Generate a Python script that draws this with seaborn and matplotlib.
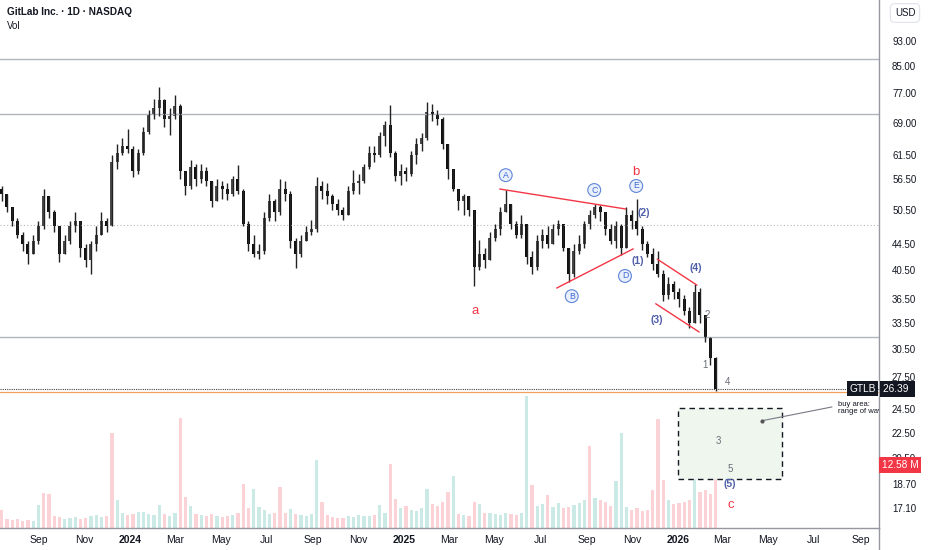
import numpy as np
import pandas as pd
import matplotlib
matplotlib.use("Agg")
import matplotlib.pyplot as plt
import matplotlib.dates as mdates
import matplotlib.transforms as mtransforms
from matplotlib.patches import Rectangle
from matplotlib.ticker import FixedLocator, NullLocator
import seaborn as sns

# weekly candles (log price scale)
first_week = "2023-07-14"
first_open = 54.5
close = [53.5, 51, 48.5, 46, 44.5, 43, 45, 47.5, 53, 50,
         47.5, 43, 45, 47.5, 48.5, 44, 42, 44.5, 46, 48.5,
         47.5, 60, 62, 63.5, 63, 58, 62, 67, 71.5, 73,
         75, 70, 71, 73.5, 58, 55, 59, 56.5, 58, 56,
         52, 55, 54.5, 53.5, 56.5, 54, 48, 44.5, 43, 43.5,
         49, 52, 50, 54.5, 53.5, 45, 43, 45, 46.5, 47,
         55, 54, 53, 51.5, 50.5, 49.5, 54, 55.5, 56, 59,
         62, 61.5, 66, 68.5, 62, 57, 58, 57.5, 61.5, 64,
         65.5, 72, 71.5, 70, 64, 58.5, 54.5, 52, 53, 50.5,
         41, 43, 42, 45.5, 47, 50, 51.5, 48, 46, 48,
         42.5, 41, 45, 46, 44.5, 47, 48, 44, 40, 43.5,
         44.5, 48, 49.5, 51, 50, 47, 45, 47.5, 44, 49.5,
         48.5, 47, 44.5, 43, 41.5, 40, 37, 38.5, 37.5, 36.5,
         35, 33.5, 37.5, 34.5, 31.8, 29.5, 26.39]
high = [55, 53.5, 51, 49, 46.5, 45, 46, 48.5, 54.5, 53,
        50.5, 47.5, 46, 48.5, 50, 48.5, 44.5, 45, 47.5, 50,
        49, 61.5, 64, 65.5, 67.5, 63.5, 63, 68, 72.5, 75.5,
        78.6, 75.5, 73, 76.5, 74, 58, 60.5, 59.5, 59.5, 59,
        56, 56.5, 56, 55.5, 57, 59.3, 54.5, 48.5, 46, 44.5,
        50, 53.4, 52.5, 56.4, 56, 54, 45.5, 46, 47.5, 48.6,
        56.8, 56, 55.5, 53.5, 52.5, 51, 55, 58.2, 57.5, 59.5,
        63.6, 63.5, 67, 69.5, 73.8, 62.5, 59.5, 59, 62.5, 65.5,
        66.6, 74.5, 74, 72.5, 70.5, 64, 58.5, 54.5, 53.5, 53,
        50.5, 45.2, 44, 46.5, 48, 51, 54.2, 51.5, 48.5, 49.5,
        48, 43.5, 46, 47, 47.5, 48, 48.6, 48, 44, 44.5,
        46, 48.5, 50.5, 51.5, 51.4, 50, 48, 48.5, 48, 51,
        50.5, 52.5, 47.5, 45, 44, 43.5, 40.5, 39.5, 39, 38,
        37, 35.5, 38.6, 38, 34.5, 31.8, 29.6]
low = [52, 50, 47.5, 45.5, 43.5, 41.5, 43, 44.5, 47, 49,
       46.5, 41.7, 43, 44.5, 46.5, 42.5, 41, 40, 43.5, 46,
       46.5, 47.5, 58.5, 61.5, 62, 56.8, 57.5, 61.5, 66.5, 70,
       71, 68, 66.2, 70, 56.5, 53.2, 54.5, 55, 55.5, 55,
       51, 52, 52.5, 52.3, 53, 53.5, 47.5, 43.5, 42.5, 42.2,
       43, 48.5, 48.5, 49.5, 52, 44, 40.8, 42.5, 45, 46,
       46.5, 52.5, 51.5, 50.5, 49.5, 48.6, 49.5, 53.5, 53.5, 55.5,
       58.5, 60, 61, 63.5, 61, 56, 55.2, 56, 57, 59.5,
       62.5, 65, 69.5, 68.5, 63, 56.5, 54, 50.5, 49.5, 49.3,
       38.3, 40.6, 40.8, 42, 45, 46, 50, 47, 45.5, 45.5,
       41.5, 40, 40.5, 44, 44, 44.5, 46, 43.5, 38.8, 39.5,
       43, 44, 47, 49, 48.5, 46, 44.5, 44, 42.8, 44,
       47, 46, 43.6, 42.5, 40.6, 39.5, 36.2, 36.5, 36.5, 35.5,
       34.5, 32.9, 33.5, 33.5, 31.3, 28.8, 26.2]
volume_m = [3.6, 1.8, 1.6, 1.8, 1.5, 1.6, 1.4, 4.6, 7.0, 6.8,
            2.4, 2.2, 1.8, 2.0, 2.2, 1.8, 2.0, 2.4, 2.6, 2.2,
            2.4, 19.0, 5.6, 3.0, 2.6, 2.8, 3.2, 3.2, 2.8, 2.6,
            4.6, 2.8, 2.4, 3.0, 22.0, 6.2, 4.4, 2.8, 2.6, 2.4,
            2.8, 2.4, 2.2, 2.4, 2.6, 3.0, 8.8, 4.0, 7.8, 4.2,
            3.6, 2.8, 3.0, 8.2, 3.0, 3.8, 2.8, 2.6, 2.4, 2.8,
            13.6, 5.2, 2.6, 2.2, 2.0, 2.0, 2.4, 2.2, 2.6, 2.4,
            2.4, 2.6, 4.6, 3.0, 12.8, 5.8, 4.0, 4.4, 3.6, 3.4,
            4.0, 7.8, 4.8, 4.4, 5.2, 7.2, 10.4, 2.8, 2.6, 2.4,
            5.2, 4.8, 3.0, 3.0, 2.8, 2.6, 3.0, 2.8, 2.6, 3.0,
            26.4, 8.6, 4.4, 4.8, 6.6, 4.2, 5.0, 4.0, 4.2, 4.6,
            5.0, 5.6, 16.4, 6.0, 5.6, 5.2, 4.4, 9.4, 19.0, 4.2,
            3.6, 4.0, 3.4, 3.6, 7.6, 21.8, 9.6, 5.6, 4.8, 5.0,
            5.2, 5.6, 10.2, 7.2, 7.6, 6.8, 12.58]
vol_up = [0, 0, 0, 0, 0, 0, 1, 1, 0, 0,
          0, 0, 1, 1, 1, 0, 0, 1, 1, 1,
          0, 0, 1, 1, 0, 0, 1, 1, 1, 1,
          1, 0, 1, 1, 0, 0, 1, 0, 1, 0,
          0, 1, 0, 0, 1, 0, 0, 0, 1, 1,
          1, 1, 0, 0, 0, 1, 0, 1, 1, 1,
          1, 0, 0, 0, 0, 0, 1, 1, 1, 1,
          1, 0, 1, 1, 0, 0, 1, 0, 1, 1,
          1, 1, 0, 0, 0, 0, 1, 0, 1, 0,
          0, 1, 0, 1, 1, 1, 1, 0, 0, 1,
          1, 0, 1, 1, 0, 1, 1, 0, 0, 1,
          1, 1, 0, 1, 0, 0, 0, 1, 1, 1,
          0, 0, 0, 0, 0, 0, 0, 1, 0, 0,
          0, 0, 1, 0, 0, 0, 0]

gray_levels = [87.1, 71.4, 31.8]
dotted_level = 47.7
last_price = 26.39
orange_level = 26.08
last_volume = 12.58

price_ticks = [93.0, 85.0, 77.0, 69.0, 61.5, 56.5, 50.5, 44.5, 40.5, 36.5,
               33.5, 30.5, 27.5, 24.5, 22.5, 20.5, 18.7, 17.1]
month_ticks = ["2023-09-01", "2023-11-01", "2024-01-01", "2024-03-01", "2024-05-01",
               "2024-07-01", "2024-09-01", "2024-11-01", "2025-01-01", "2025-03-01",
               "2025-05-01", "2025-07-01", "2025-09-01", "2025-11-01", "2026-01-01",
               "2026-03-01", "2026-05-01", "2026-07-01", "2026-09-01"]
month_labels = ["Sep", "Nov", "2024", "Mar", "May", "Jul", "Sep", "Nov", "2025", "Mar",
                "May", "Jul", "Sep", "Nov", "2026", "Mar", "May", "Jul", "Sep"]

# red trend lines (triangle + channel)
trend_seg = ["tri_top", "tri_top", "tri_bot", "tri_bot", "ch_top", "ch_top", "ch_bot", "ch_bot"]
trend_date = ["2025-05-08", "2025-10-23", "2025-07-23", "2025-11-02",
              "2025-12-04", "2026-01-26", "2025-12-02", "2026-01-29"]
trend_price = [54.4, 50.6, 38.0, 43.8, 42.2, 38.4, 35.9, 32.4]

circled = [("A", "2025-05-16", 57.2), ("B", "2025-08-12", 36.9), ("C", "2025-09-11", 54.2),
           ("D", "2025-10-22", 39.7), ("E", "2025-11-06", 55.0)]
waves = [("(1)", "2025-11-08", 41.9), ("(2)", "2025-11-16", 49.9), ("(3)", "2025-12-04", 33.9),
         ("(4)", "2026-01-25", 40.8), ("(5)", "2026-03-11", 18.7)]
subwaves = [("1", "2026-02-06", 28.8), ("2", "2026-02-09", 34.5), ("3", "2026-02-24", 21.8),
            ("4", "2026-03-08", 27.0), ("5", "2026-03-11", 19.7)]
abc = [("a", "2025-04-05", 35.0), ("b", "2025-11-05", 57.8), ("c", "2026-03-12", 17.3)]

sns.set_theme(style="white")
plt.rcParams['font.family'] = ['Liberation Sans', 'DejaVu Sans']

dates = pd.date_range(first_week, periods=len(close), freq="7D")
dnum = mdates.date2num(dates)
c = np.array(close)
o = np.r_[first_open, c[:-1]]
up = c >= o


def dn(s):
    return mdates.date2num(pd.Timestamp(s))


fig = plt.figure(figsize=(9.32, 5.5), dpi=100)
rect = [0, 22 / 550, 879 / 932, 528 / 550]
axv = fig.add_axes(rect)
ax = fig.add_axes(rect, sharex=axv)
ax.patch.set_alpha(0)

# volume
axv.bar(dnum, volume_m, width=4.6,
        color=np.where(np.array(vol_up) == 1, "#cbeae6", "#fbd3d6"), linewidth=0)
axv.set_ylim(0, 105.6)
axv.set_axis_off()

# candles
ax.vlines(dnum, low, high, color="#222222", lw=1.0)
ax.bar(dnum, np.abs(c - o), bottom=np.minimum(c, o), width=4.0,
       color=np.where(up, "#4a4a4a", "#111111"), linewidth=0)

for lv in gray_levels:
    ax.axhline(lv, color="#b2b5be", lw=1.0, zorder=1)
ax.axhline(dotted_level, color="#b2b5be", lw=0.8, ls=(0, (1, 2)), zorder=1)
ax.axhline(last_price, color="#444444", lw=0.8, ls=(0, (1, 1)), zorder=1)
ax.axhline(orange_level, color="#f5a15b", lw=0.9, zorder=1)

tl = pd.DataFrame({"seg": trend_seg, "x": [dn(d) for d in trend_date], "price": trend_price})
sns.lineplot(data=tl, x="x", y="price", units="seg", estimator=None,
             color="#f23645", lw=1.0, ax=ax, legend=False)

for t, d, p in circled:
    ax.text(dn(d), p, t, color="#3f6bd1", fontsize=6.3, ha="center", va="center",
            bbox=dict(boxstyle="circle,pad=0.22", fc="#e9effc", ec="#5f86d8", lw=0.8))
for t, d, p in waves:
    ax.text(dn(d), p, t, color="#4f5ea8", fontsize=7.5, fontweight="bold", ha="center", va="center")
for t, d, p in subwaves:
    ax.text(dn(d), p, t, color="#6a6d78", fontsize=7, ha="center", va="center")
for t, d, p in abc:
    ax.text(dn(d), p, t, color="#f23645", fontsize=9.5, ha="center", va="center")

# buy area
box = Rectangle((dn("2026-01-01"), 19.0), dn("2026-05-19") - dn("2026-01-01"), 24.6 - 19.0,
                fc="#eef6ee", ec="#131722", lw=1.0, ls=(0, (4, 3)), zorder=0.5)
ax.add_patch(box)
ax.plot([dn("2026-04-23"), dn("2026-07-25")], [23.5, 24.7], color="#787b86", lw=0.8)
ax.plot([dn("2026-04-23")], [23.5], "o", ms=2, color="#555555")
ax.text(dn("2026-08-02"), 24.6, "buy area:\nrange of wave c", fontsize=5.5, color="#131722",
        ha="left", va="center", linespacing=0.95, clip_on=True)

x0 = dn("2024-01-01")
ax.set_xlim(x0 - 173.3, x0 + 998.7)
ax.set_yscale("log")
ax.set_ylim(15.93, 107.9)

ax.yaxis.tick_right()
ax.yaxis.set_major_locator(FixedLocator(price_ticks))
ax.yaxis.set_minor_locator(NullLocator())
ax.set_yticklabels([f"{v:.2f}" for v in price_ticks])
ax.tick_params(axis="y", length=0, pad=9.4, labelsize=7, labelcolor="#131722")

ax.xaxis.set_major_locator(FixedLocator([dn(d) for d in month_ticks]))
ax.xaxis.set_minor_locator(NullLocator())
ax.set_xticklabels(month_labels)
for lab in ax.get_xticklabels():
    if lab.get_text().isdigit():
        lab.set_fontweight("bold")
ax.tick_params(axis="x", length=0, pad=5, labelsize=7.5, labelcolor="#131722")
ax.set_xlabel("")
ax.set_ylabel("")
ax.grid(False)

for s in ["top", "left"]:
    ax.spines[s].set_visible(False)
ax.spines["bottom"].set_color("#9598a1")
ax.spines["right"].set_color("#9598a1")
ax.spines["bottom"].set_linewidth(1.0)
ax.spines["right"].set_linewidth(1.0)
fig.add_artist(plt.Line2D([879 / 932, 879 / 932], [0, 22 / 550], color="#9598a1", lw=1.0))

# price and volume tags on the scale
tr = mtransforms.blended_transform_factory(ax.transAxes, ax.transData)
ax.text(0.9965, last_price, "GTLB", transform=tr, ha="right", va="center", fontsize=7.3,
        color="white", zorder=6, bbox=dict(boxstyle="square,pad=0.25", fc="#131722", ec="none"))
ax.text(1.005, last_price, "26.39 ", transform=tr, ha="left", va="center", fontsize=7.3,
        color="white", zorder=6, clip_on=False,
        bbox=dict(boxstyle="square,pad=0.3", fc="#131722", ec="none"))
trv = mtransforms.blended_transform_factory(ax.transAxes, axv.transData)
ax.text(1.003, last_volume, "12.58 M", transform=trv, ha="left", va="center", fontsize=7.3,
        color="white", zorder=6, clip_on=False,
        bbox=dict(boxstyle="square,pad=0.3", fc="#f23645", ec="none"))

fig.text(7 / 932, 1 - 12 / 550, "GitLab Inc. · 1D · NASDAQ", fontsize=7.2,
         fontweight="bold", color="#131722", ha="left", va="center")
fig.text(7 / 932, 1 - 26 / 550, "Vol", fontsize=7, color="#131722", ha="left", va="center")
fig.text(905 / 932, 1 - 13 / 550, "USD", fontsize=7, color="#131722", ha="center", va="center",
         bbox=dict(boxstyle="round,pad=0.45", fc="white", ec="#e0e3eb", lw=0.8))

fig.savefig("out.png", dpi=100)
